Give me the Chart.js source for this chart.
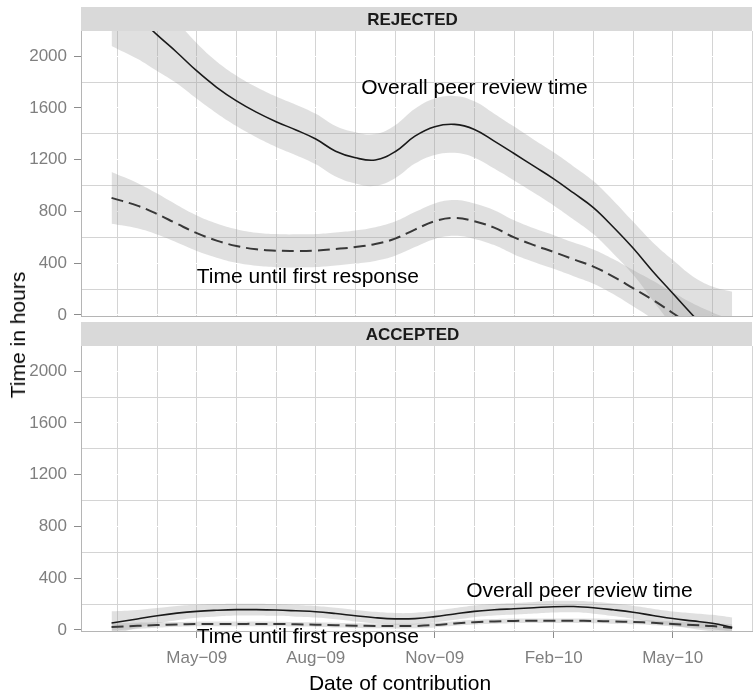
<!DOCTYPE html>
<html>
<head>
<meta charset="utf-8">
<script src="https://cdn.jsdelivr.net/npm/chart.js@4.4.1/dist/chart.umd.min.js"></script>
<style>
  html, body { margin: 0; padding: 0; background: #fff; }
  #wrap { position: relative; width: 756px; height: 696px; }
  #rejectedPanel { position: absolute; left: 0; top: 0; }
  #acceptedPanel { position: absolute; left: 0; top: 320px; }
  .axisTitle {
    position: absolute;
    font: 21px "Liberation Sans", Arial, sans-serif;
    white-space: nowrap; color: #000;
  }
  #yTitle { left: 18px; top: 335px; transform: translate(-50%, -50%) rotate(-90deg); }
  #xTitle { left: 400px; top: 683px; transform: translate(-50%, -50%); }
</style>
</head>
<body>
<div id="wrap">
  <canvas id="rejectedPanel" width="756" height="320"></canvas>
  <canvas id="acceptedPanel" width="756" height="376"></canvas>
  <div class="axisTitle" id="yTitle">Time in hours</div>
  <div class="axisTitle" id="xTitle">Date of contribution</div>
</div>
<script>
// months counted from Jan-09 (Mar-09 = 2, May-10 = 16)
const months = [1.85, 2.5, 3, 3.5, 4, 4.5, 5, 5.5, 6, 6.5, 7, 7.5, 8, 8.5, 9, 9.5,
  10, 10.5, 11, 11.5, 12, 12.5, 13, 13.5, 14, 14.5, 15, 15.5, 16, 16.5, 17, 17.5];

// REJECTED: smoothed overall peer review time and its band
const rejectedOverall = [2500, 2310, 2165, 2029, 1886, 1760, 1655, 1568, 1494, 1430, 1360, 1266, 1215, 1198, 1262, 1382,
  1455, 1473, 1434, 1344, 1248, 1150, 1052, 943, 830, 680, 517, 336, 168, 0, -160, -300];
const rejectedOverallHi = [2920, 2640, 2445, 2269, 2101, 1960, 1850, 1763, 1689, 1625, 1555, 1461, 1413, 1398, 1467, 1594,
  1673, 1693, 1652, 1556, 1456, 1355, 1257, 1148, 1035, 885, 722, 561, 426, 300, 220, 180];
const rejectedOverallLo = [2080, 1980, 1885, 1789, 1671, 1560, 1460, 1373, 1299, 1235, 1165, 1071, 1017, 998, 1057, 1170,
  1237, 1253, 1216, 1132, 1040, 945, 847, 738, 625, 475, 312, 111, -90, -300, -540, -780];

// REJECTED: time until first response
const rejectedFirst = [905, 845, 780, 705, 632, 575, 533, 508, 497, 495, 498, 510, 525, 548, 590, 660,
  725, 750, 725, 675, 600, 540, 487, 430, 374, 297, 207, 116, 15, -90, -190, -290];
const rejectedFirstHi = [1105, 1020, 938, 850, 769, 707, 663, 636, 625, 623, 626, 638, 653, 678, 722, 795,
  862, 888, 862, 810, 732, 670, 617, 560, 506, 432, 347, 264, 175, 90, 20, -40];
const rejectedFirstLo = [705, 670, 622, 560, 495, 443, 403, 380, 369, 367, 370, 382, 397, 418, 458, 525,
  588, 612, 588, 540, 468, 410, 357, 300, 242, 162, 67, -32, -145, -270, -400, -540];

// ACCEPTED
const acceptedOverall = [54, 85, 110, 130, 144, 152, 157, 157, 154, 148, 141, 127, 110, 95, 86, 88,
  103, 124, 144, 156, 164, 172, 180, 181, 172, 156, 137, 112, 88, 70, 52, 21];
const acceptedOverallHi = [144, 155, 170, 185, 194, 200, 203, 202, 199, 193, 186, 172, 155, 140, 131, 133,
  148, 169, 189, 201, 209, 217, 225, 226, 218, 204, 187, 164, 143, 130, 117, 96];
const acceptedOverallLo = [-36, 15, 50, 75, 94, 104, 111, 112, 109, 103, 96, 82, 65, 50, 41, 43,
  58, 79, 99, 111, 119, 127, 135, 136, 126, 108, 87, 60, 33, 10, -13, -54];

const acceptedFirst = [23, 32, 38, 43, 46, 47, 47, 47, 46, 44, 41, 37, 33, 31, 30, 31,
  38, 50, 60, 66, 70, 71, 71, 71, 70, 66, 62, 55, 46, 38, 30, 15];
const acceptedFirstHi = [51, 56, 59, 62, 64, 65, 65, 65, 64, 62, 59, 55, 51, 49, 48, 49,
  56, 68, 78, 84, 88, 89, 89, 89, 88, 84, 80, 73, 65, 59, 54, 43];
const acceptedFirstLo = [-5, 8, 17, 24, 28, 29, 29, 29, 28, 26, 23, 19, 15, 13, 12, 13,
  20, 32, 42, 48, 52, 53, 53, 53, 52, 48, 44, 37, 27, 17, 6, -13];

// axes
const gridMonths = [2, 3, 4, 5, 6, 7, 8, 9, 10, 11, 12, 13, 14, 15, 16, 17, 18];
const tickMonths = [4, 7, 10, 13, 16];
const tickLabels = ['May\u221209', 'Aug\u221209', 'Nov\u221209', 'Feb\u221210', 'May\u221210'];
const hourGrid = [0, 200, 400, 600, 800, 1000, 1200, 1400, 1600, 1800, 2000];

// in-plot labels
const noteText = ['Overall peer review time', 'Time until first response'];
const rejectedNoteMonth = [11.0, 6.8];
const rejectedNoteHours = [1752, 295];
const acceptedNoteMonth = [13.65, 6.8];
const acceptedNoteHours = [301, -54];

const FONT = '"Liberation Sans", Arial, Helvetica, sans-serif';
Chart.defaults.font.family = FONT;

function pts(values) {
  return months.map((m, i) => ({ x: m, y: values[i] }));
}

function seriesSets(mid, hi, lo, dashed) {
  return [
    {
      data: pts(mid), borderColor: dashed ? '#383838' : '#1a1a1a',
      borderWidth: dashed ? 2 : 1.6, borderDash: dashed ? [12, 6] : [],
      fill: false, order: 1
    },
    { data: pts(hi), borderWidth: 0, borderColor: 'rgba(0,0,0,0)', fill: false, order: 2 },
    { data: pts(lo), borderWidth: 0, borderColor: 'rgba(0,0,0,0)', fill: '-1',
      backgroundColor: 'rgba(153,153,153,0.3)', order: 2 }
  ];
}

// strip header above the panel and the text notes inside it
function decor(title, stripTop, noteX, noteY) {
  return {
    id: 'decor',
    beforeDraw(chart) {
      const { ctx, chartArea } = chart;
      ctx.save();
      ctx.fillStyle = '#d9d9d9';
      ctx.fillRect(chartArea.left, stripTop, chartArea.right - chartArea.left, chartArea.top - stripTop);
      ctx.fillStyle = '#1a1a1a';
      ctx.font = 'bold 17px ' + FONT;
      ctx.textAlign = 'center';
      ctx.textBaseline = 'middle';
      ctx.fillText(title, (chartArea.left + chartArea.right) / 2 - 4, (stripTop + chartArea.top) / 2 + 1);
      ctx.restore();
    },
    afterDraw(chart) {
      const { ctx, scales } = chart;
      ctx.save();
      ctx.fillStyle = '#000';
      ctx.font = '21px ' + FONT;
      ctx.textAlign = 'center';
      ctx.textBaseline = 'middle';
      noteText.forEach((t, i) => {
        ctx.fillText(t, scales.x.getPixelForValue(noteX[i]), scales.y.getPixelForValue(noteY[i]));
      });
      ctx.restore();
    }
  };
}

function makePanel(canvasId, opt) {
  const datasets = [].concat(
    seriesSets(opt.overall, opt.overallHi, opt.overallLo, false),
    seriesSets(opt.first, opt.firstHi, opt.firstLo, true)
  );
  return new Chart(document.getElementById(canvasId), {
    type: 'line',
    data: { datasets: datasets },
    plugins: [decor(opt.title, opt.stripTop, opt.noteX, opt.noteY)],
    options: {
      responsive: false,
      animation: false,
      layout: { padding: { top: opt.padTop, right: 4, bottom: 0, left: 0 } },
      elements: {
        point: { radius: 0 },
        line: { tension: 0.4 }
      },
      plugins: { legend: { display: false }, tooltip: { enabled: false } },
      scales: {
        x: {
          type: 'linear',
          min: 1.08,
          max: 18,
          afterBuildTicks: (s) => { s.ticks = gridMonths.map((v) => ({ value: v })); },
          afterFit: (s) => { s.height = opt.xHeight; s.paddingLeft = 0; s.paddingRight = 0; },
          grid: {
            color: '#d4d4d4',
            drawTicks: opt.showX,
            tickLength: 7,
            tickColor: (c) => tickMonths.includes(c.tick.value) ? '#8c8c8c' : 'rgba(0,0,0,0)'
          },
          border: { color: '#b5b5b5' },
          ticks: {
            display: opt.showX,
            autoSkip: false,
            maxRotation: 0,
            minRotation: 0,
            padding: 10,
            color: '#7f7f7f',
            font: { size: 17 },
            callback: (v) => {
              const i = tickMonths.indexOf(v);
              return i >= 0 ? tickLabels[i] : '';
            }
          }
        },
        y: {
          min: -8,
          max: 2195,
          afterBuildTicks: (s) => { s.ticks = hourGrid.map((v) => ({ value: v })); },
          afterFit: (s) => { s.width = 81; s.paddingTop = 0; s.paddingBottom = 0; },
          grid: {
            color: (c) => c.tick.value % 400 === 0 ? '#ffffff' : '#d4d4d4',
            tickLength: 7,
            tickColor: (c) => c.tick.value % 400 === 0 ? '#8c8c8c' : 'rgba(0,0,0,0)'
          },
          border: { color: '#b5b5b5' },
          ticks: {
            autoSkip: false,
            padding: 7,
            color: '#7f7f7f',
            font: { size: 17 },
            callback: (v) => v % 400 === 0 ? String(v) : ''
          }
        }
      }
    }
  });
}

makePanel('rejectedPanel', {
  title: 'REJECTED',
  stripTop: 7,
  padTop: 31,
  xHeight: 4,
  showX: false,
  overall: rejectedOverall, overallHi: rejectedOverallHi, overallLo: rejectedOverallLo,
  first: rejectedFirst, firstHi: rejectedFirstHi, firstLo: rejectedFirstLo,
  noteX: rejectedNoteMonth, noteY: rejectedNoteHours
});

makePanel('acceptedPanel', {
  title: 'ACCEPTED',
  stripTop: 2,
  padTop: 26,
  xHeight: 65,
  showX: true,
  overall: acceptedOverall, overallHi: acceptedOverallHi, overallLo: acceptedOverallLo,
  first: acceptedFirst, firstHi: acceptedFirstHi, firstLo: acceptedFirstLo,
  noteX: acceptedNoteMonth, noteY: acceptedNoteHours
});
</script>
</body>
</html>
